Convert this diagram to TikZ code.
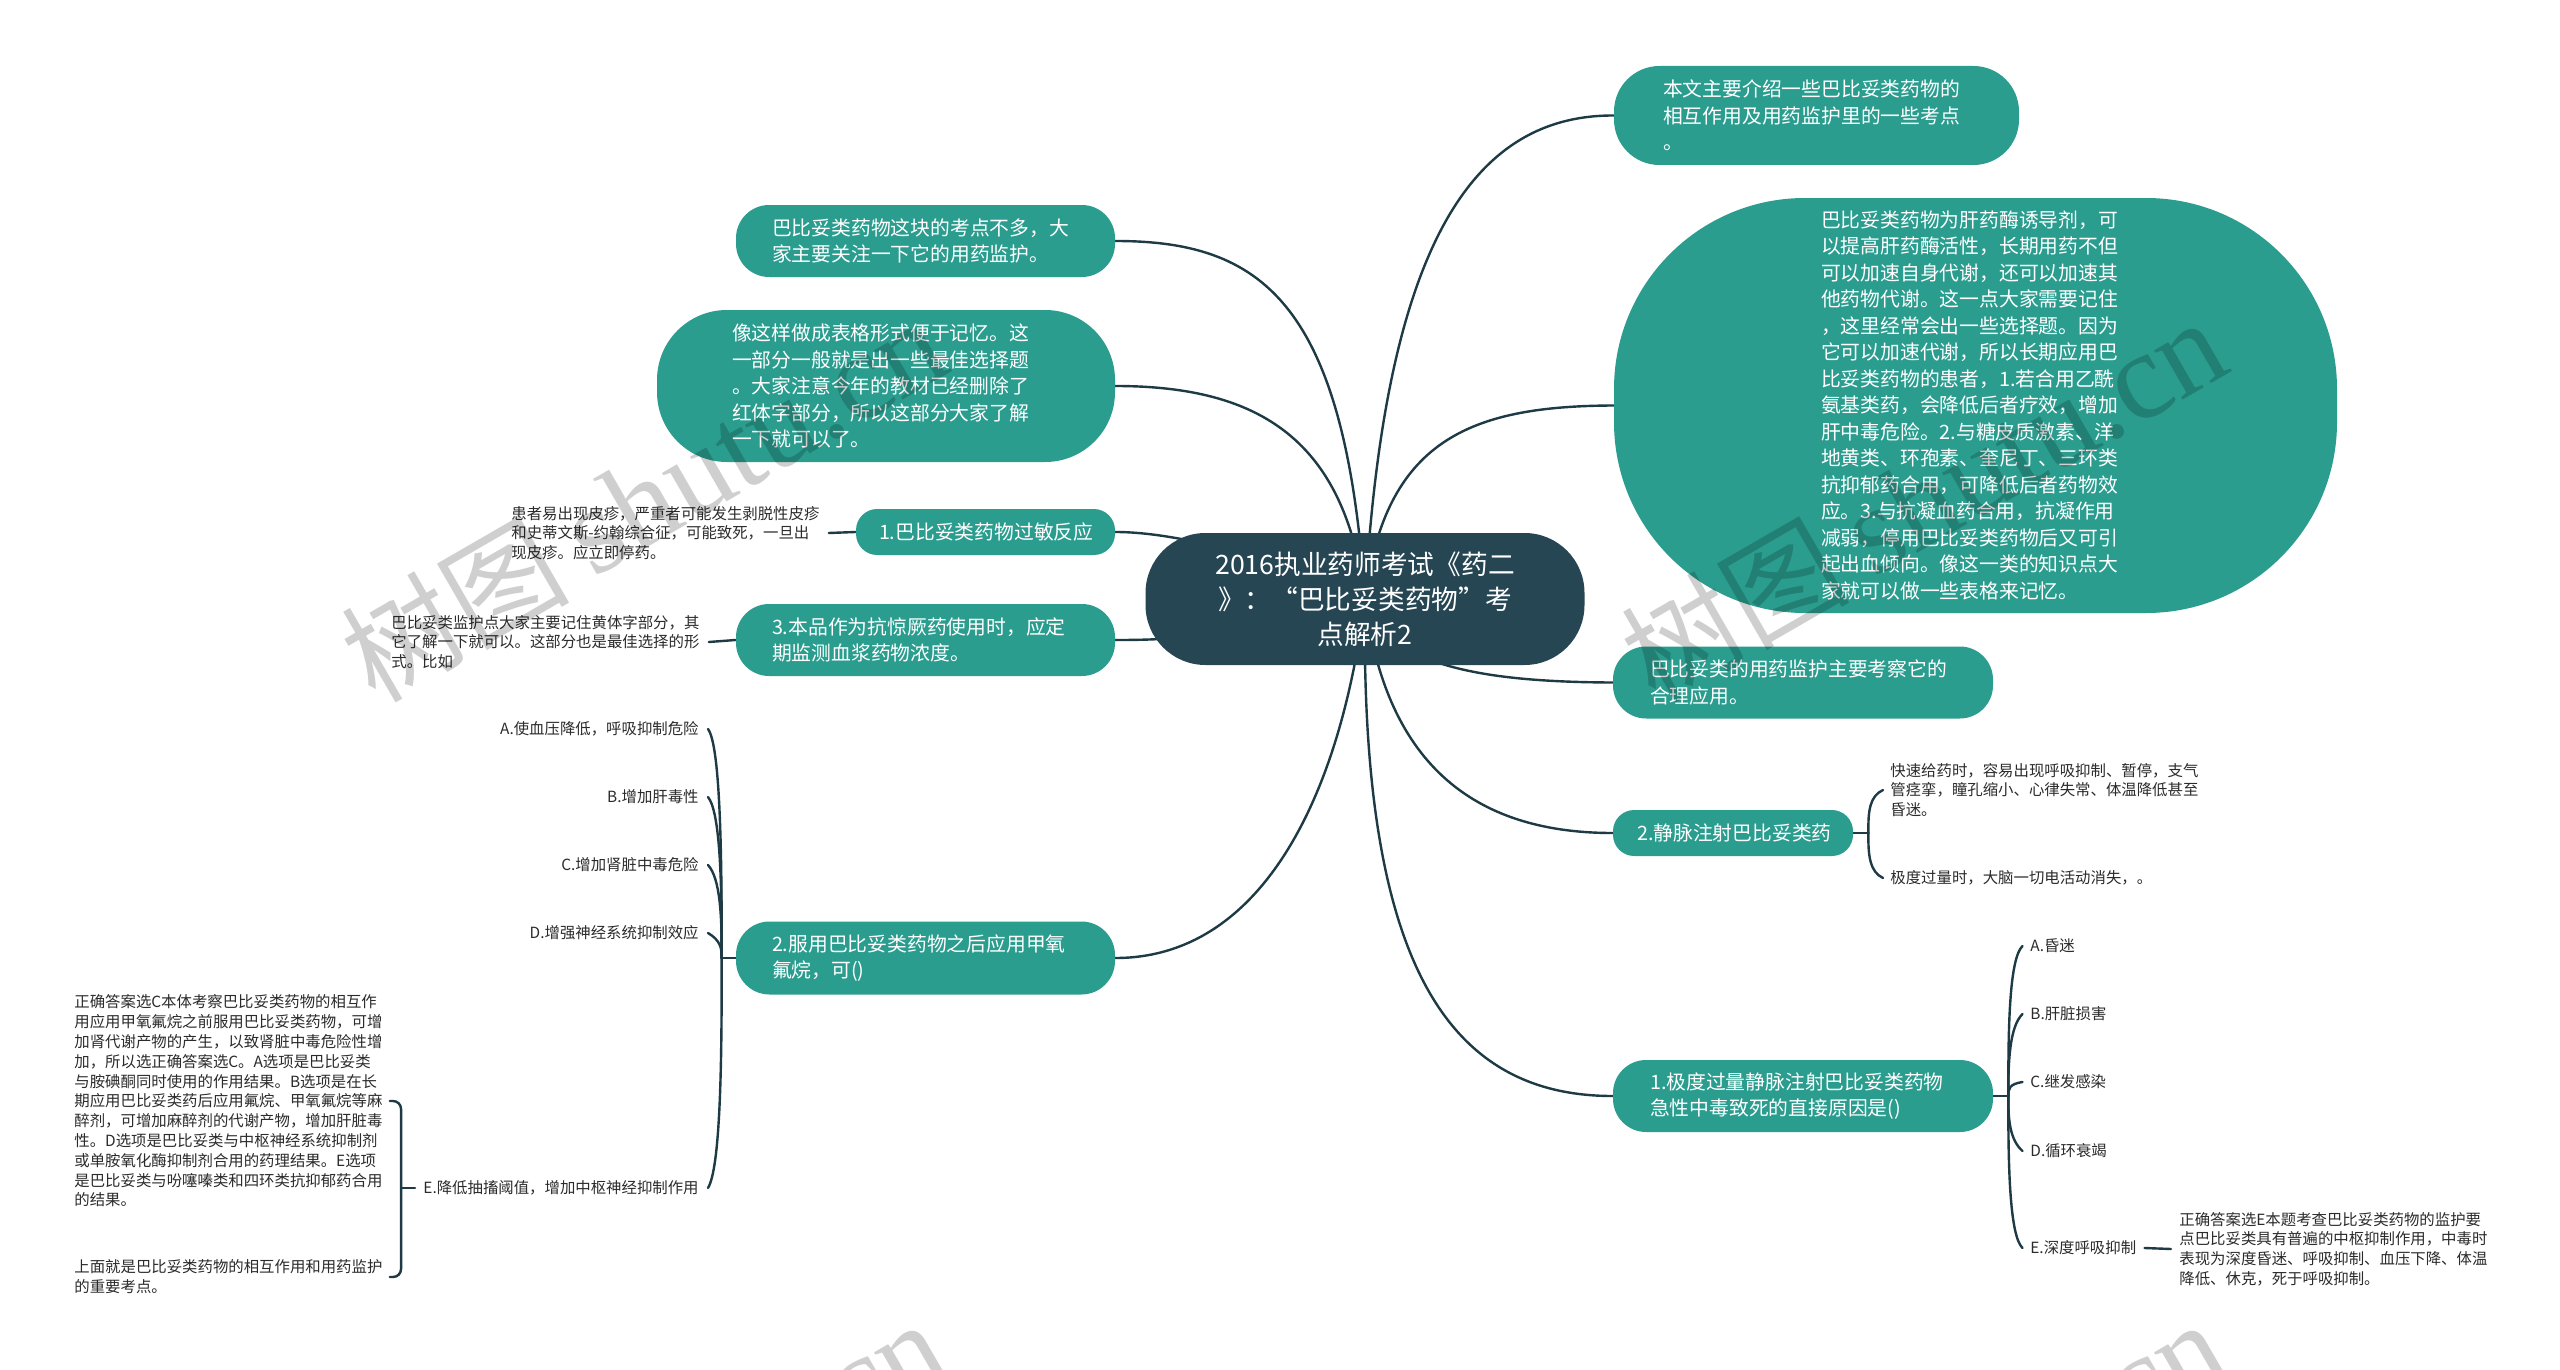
\documentclass[tikz,border=0pt]{standalone}
\usepackage{fontspec}
\setmainfont{Noto Sans CJK SC}
\newfontfamily\wmserif{Liberation Serif}
\usetikzlibrary{backgrounds,calc}
\definecolor{tealc}{HTML}{2A9D8F}
\definecolor{rootc}{HTML}{264653}
\definecolor{linec}{HTML}{1D3A45}
\definecolor{notec}{HTML}{2B2B2B}
\tikzset{
  x=0.5pt,y=-0.5pt,
  branch/.style n args={3}{fill=tealc,text=white,inner sep=0pt,align=left,
    font=\fontsize{9.9}{13.25}\selectfont,
    minimum width=#1*0.5pt,minimum height=#2*0.5pt,text width=(#1-2*#3)*0.5pt,
    rounded corners=#2*0.23pt},
  rootbox/.style={fill=rootc,text=white,inner sep=0pt,align=center,
    font=\fontsize{13.35}{17.5}\selectfont,
    minimum width=219.5pt,minimum height=66pt,rounded corners=30pt},
  note/.style={text=notec,inner sep=0pt,align=left,anchor=west,
    font=\fontsize{7.7}{9.9}\selectfont},
  noter/.style={note,align=right,anchor=east},
  conn/.style={draw=linec,line width=1.2pt,line cap=round},
  wm/.style={text=black,text opacity=0.19,inner sep=0pt,anchor=base west,rotate=30},
}
\newcommand{\wmtext}{{\fontsize{57}{57}\selectfont 树图\hspace{12pt}}{\fontsize{62}{62}\selectfont\wmserif shutu.cn}}
\begin{document}
\begin{tikzpicture}
\useasboundingbox (0,0) rectangle (2560,1370);
% central topic
\node[rootbox] (root) at (1365,599) {2016执业药师考试《药二\\》：“巴比妥类药物”考\\点解析2};
% right branches
\node[branch={405}{99}{49}] (N1) at (1816.5,115.5) {本文主要介绍一些巴比妥类药物的\\相互作用及用药监护里的一些考点\\。};
\node[branch={723}{415}{207}] (N2) at (1975.5,405.5) {巴比妥类药物为肝药酶诱导剂，可\\以提高肝药酶活性，长期用药不但\\可以加速自身代谢，还可以加速其\\他药物代谢。这一点大家需要记住\\，这里经常会出一些选择题。因为\\它可以加速代谢，所以长期应用巴\\比妥类药物的患者，1.若合用乙酰\\氨基类药，会降低后者疗效，增加\\肝中毒危险。2.与糖皮质激素、洋\\地黄类、环孢素、奎尼丁、三环类\\抗抑郁药合用，可降低后者药物效\\应。3.与抗凝血药合用，抗凝作用\\减弱，停用巴比妥类药物后又可引\\起出血倾向。像这一类的知识点大\\家就可以做一些表格来记忆。};
\node[branch={380}{72}{37}] (N3) at (1803,682.5) {巴比妥类的用药监护主要考察它的\\合理应用。};
\node[branch={240}{46}{24}] (N4) at (1733,833) {2.静脉注射巴比妥类药};
\node[branch={380}{72}{37}] (N5) at (1803,1096) {1.极度过量静脉注射巴比妥类药物\\急性中毒致死的直接原因是()};
% left branches
\node[branch={379}{72}{36}] (L1) at (925.5,241) {巴比妥类药物这块的考点不多，大\\家主要关注一下它的用药监护。};
\node[branch={458}{152}{75}] (L2) at (886,386) {像这样做成表格形式便于记忆。这\\一部分一般就是出一些最佳选择题\\。大家注意今年的教材已经删除了\\红体字部分，所以这部分大家了解\\一下就可以了。};
\node[branch={259}{46}{23}] (L3) at (985.5,532) {1.巴比妥类药物过敏反应};
\node[branch={379}{72}{36}] (L4) at (925.5,640) {3.本品作为抗惊厥药使用时，应定\\期监测血浆药物浓度。};
\node[branch={379}{73}{36}] (L5) at (925.5,958) {2.服用巴比妥类药物之后应用甲氧\\氟烷，可()};
% left notes
\node[note] (noteA) at (511,533) {患者易出现皮疹，严重者可能发生剥脱性皮疹\\和史蒂文斯-约翰综合征，可能致死，一旦出\\现皮疹。应立即停药。};
\node[note] (noteB) at (391,642) {巴比妥类监护点大家主要记住黄体字部分，其\\它了解一下就可以。这部分也是最佳选择的形\\式。比如};
\node[noter] (LA) at (699,729) {A.使血压降低，呼吸抑制危险};
\node[noter] (LB) at (699,797) {B.增加肝毒性};
\node[noter] (LC) at (699,865) {C.增加肾脏中毒危险};
\node[noter] (LD) at (699,933) {D.增强神经系统抑制效应};
\node[noter] (LE) at (699,1188) {E.降低抽搐阈值，增加中枢神经抑制作用};
\node[note] (ansA) at (74,1101) {正确答案选C本体考察巴比妥类药物的相互作\\用应用甲氧氟烷之前服用巴比妥类药物，可增\\加肾代谢产物的产生，以致肾脏中毒危险性增\\加，所以选正确答案选C。A选项是巴比妥类\\与胺碘酮同时使用的作用结果。B选项是在长\\期应用巴比妥类药后应用氟烷、甲氧氟烷等麻\\醉剂，可增加麻醉剂的代谢产物，增加肝脏毒\\性。D选项是巴比妥类与中枢神经系统抑制剂\\或单胺氧化酶抑制剂合用的药理结果。E选项\\是巴比妥类与吩噻嗪类和四环类抗抑郁药合用\\的结果。};
\node[note] (ansB) at (74,1277) {上面就是巴比妥类药物的相互作用和用药监护\\的重要考点。};
% right notes
\node[note] (RN1) at (1890,790) {快速给药时，容易出现呼吸抑制、暂停，支气\\管痉挛，瞳孔缩小、心律失常、体温降低甚至\\昏迷。};
\node[note] (RN2) at (1890,878) {极度过量时，大脑一切电活动消失，。};
\node[note] (RA) at (2030,946) {A.昏迷};
\node[note] (RB) at (2030,1014) {B.肝脏损害};
\node[note] (RC) at (2030,1082) {C.继发感染};
\node[note] (RD) at (2030,1151) {D.循环衰竭};
\node[note] (RE) at (2030,1248) {E.深度呼吸抑制};
\node[note] (ansR) at (2179,1249) {正确答案选E本题考查巴比妥类药物的监护要\\点巴比妥类具有普遍的中枢抑制作用，中毒时\\表现为深度昏迷、呼吸抑制、血压下降、体温\\降低、休克，死于呼吸抑制。};
% junctions of the side spines
\coordinate (jL) at ([xshift=-7pt]L5.west);
\coordinate (jN4) at ([xshift=7.5pt]N4.east);
\coordinate (jN5) at ([xshift=7.5pt]N5.east);
\coordinate (brk) at ([xshift=-11pt]LE.west);
% connectors behind the boxes
\begin{pgfonlayer}{background}
\fill[white] (0,0) rectangle (2560,1370);
\draw[conn] (root.center) .. controls (1385,250) and (1470,115) .. (N1.west);
\draw[conn] (root.center) .. controls (1385,440) and (1470,406) .. (N2.west);
\draw[conn] (root.center) .. controls (1385,665) and (1480,682) .. (N3.west);
\draw[conn] (root.center) .. controls (1385,760) and (1470,833) .. (N4.west);
\draw[conn] (root.center) .. controls (1360,950) and (1440,1096) .. (N5.west);
\draw[conn] (root.center) .. controls (1345,300) and (1260,241) .. (L1.east);
\draw[conn] (root.center) .. controls (1345,440) and (1260,386) .. (L2.east);
\draw[conn] (root.center) .. controls (1280,560) and (1180,532) .. (L3.east);
\draw[conn] (root.center) .. controls (1250,640) and (1150,640) .. (L4.east);
\draw[conn] (root.center) .. controls (1340,800) and (1260,958) .. (L5.east);
\draw[conn] (L3.west) -- ([xshift=4.5pt]noteA.east);
\draw[conn] (L4.west) -- ([xshift=4.5pt]noteB.east);
\draw[conn] (L5.west) -- (jL);
\draw[conn] (jL) .. controls (722,850) and (720,745) .. ([xshift=4.5pt]LA.east);
\draw[conn] (jL) .. controls (722,880) and (720,812) .. ([xshift=4.5pt]LB.east);
\draw[conn] (jL) .. controls (722,915) and (720,878) .. ([xshift=4.5pt]LC.east);
\draw[conn] (jL) .. controls (722,948) and (720,940) .. ([xshift=4.5pt]LD.east);
\draw[conn] (jL) .. controls (722,1070) and (720,1168) .. ([xshift=4.5pt]LE.east);
\draw[conn] ([xshift=-4pt]LE.west) -- (brk);
\draw[conn,rounded corners=4pt] ([xshift=3.5pt]ansA.east) -| (brk) |- ([xshift=3.5pt]ansB.east);
\draw[conn] (N4.east) -- (jN4);
\draw[conn] (jN4) .. controls (1868,810) and (1870,796) .. ([xshift=-3.5pt]RN1.west);
\draw[conn] (jN4) .. controls (1868,856) and (1870,872) .. ([xshift=-3.5pt]RN2.west);
\draw[conn] (N5.east) -- (jN5);
\draw[conn] (jN5) .. controls (2008,1020) and (2010,958) .. ([xshift=-3.75pt]RA.west);
\draw[conn] (jN5) .. controls (2008,1060) and (2010,1026) .. ([xshift=-3.75pt]RB.west);
\draw[conn] (jN5) .. controls (2008,1088) and (2010,1084) .. ([xshift=-3.75pt]RC.west);
\draw[conn] (jN5) .. controls (2008,1120) and (2010,1140) .. ([xshift=-3.75pt]RD.west);
\draw[conn] (jN5) .. controls (2008,1170) and (2010,1236) .. ([xshift=-3.75pt]RE.west);
\draw[conn] ([xshift=4pt]RE.east) -- ([xshift=-4pt]ansR.west);
\end{pgfonlayer}
% watermark overlay
\begin{scope}
\clip (0,0) rectangle (2560,1370);
\node[wm] (wm1) at (375,705) {\wmtext};
\node[wm] (wm2) at (1655,705) {\wmtext};
\node[wm] (wm3) at (375,1707) {\wmtext};
\node[wm] (wm4) at (1655,1707) {\wmtext};
\end{scope}
\end{tikzpicture}
\end{document}
